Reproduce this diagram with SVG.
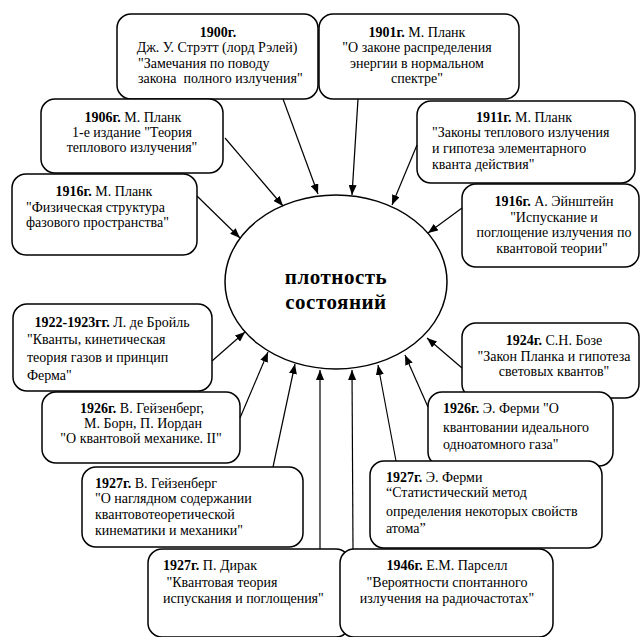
<svg xmlns="http://www.w3.org/2000/svg" width="642" height="637" viewBox="0 0 642 637">
<style>
.box{fill:#fff;stroke:#000;stroke-width:1.5}
.t{font-family:"Liberation Serif","Times New Roman","DejaVu Serif",serif;font-size:14px;fill:#000}
.b{font-weight:bold}
.c{text-anchor:middle}
.conn line{stroke:#000;stroke-width:1.2;marker-end:url(#ah)}
.center{font-family:"Liberation Serif","Times New Roman","DejaVu Serif",serif;font-size:21px;font-weight:bold;text-anchor:middle;letter-spacing:0.5px}
</style>
<defs>
<marker id="ah" viewBox="0 0 10 8" refX="10" refY="4" markerWidth="10" markerHeight="8" markerUnits="userSpaceOnUse" orient="auto">
<path d="M0,0 L10,4 L0,8 Z" fill="#000"/>
</marker>
</defs>
<rect width="642" height="637" fill="#fff"/>

<g id="center">
<ellipse cx="336" cy="282" rx="111" ry="87" class="box"/>
<text class="center" x="336" y="284">плотность</text>
<text class="center" x="336" y="309">состояний</text>
</g>

<g id="n1900">
<rect class="box" x="117" y="14" width="201" height="85" rx="14"/>
<text class="t c b" x="218" y="37">1900г.</text>
<text class="t c" x="217" y="52">Дж. У. Стрэтт (лорд Рэлей)</text>
<text class="t" x="138" y="68">"Замечания по поводу</text>
<text class="t" x="138" y="83" xml:space="preserve">закона  полного излучения"</text>
</g>

<g id="n1901">
<rect class="box" x="319" y="14" width="200" height="85" rx="14"/>
<text class="t c" x="417" y="37"><tspan class="b">1901г.</tspan> М. Планк</text>
<text class="t c" x="417" y="52">"О законе распределения</text>
<text class="t c" x="417" y="68">энергии в нормальном</text>
<text class="t c" x="417" y="83">спектре"</text>
</g>

<g id="n1906">
<rect class="box" x="41" y="99" width="182" height="74" rx="14"/>
<text class="t c" x="133" y="122"><tspan class="b">1906г.</tspan> М. Планк</text>
<text class="t c" x="132" y="137">1-е издание "Теория</text>
<text class="t c" x="132" y="152">теплового излучения"</text>
</g>

<g id="n1916p">
<rect class="box" x="12" y="174" width="185" height="81" rx="14"/>
<text class="t c" x="104" y="196"><tspan class="b">1916г.</tspan> М. Планк</text>
<text class="t" x="26" y="212">"Физическая структура</text>
<text class="t" x="26" y="227">фазового пространства"</text>
</g>

<g id="n1911">
<rect class="box" x="417" y="101" width="218" height="82" rx="14"/>
<text class="t c" x="524" y="122"><tspan class="b">1911г.</tspan> М. Планк</text>
<text class="t" x="432" y="137">"Законы теплового излучения</text>
<text class="t" x="432" y="153">и гипотеза элементарного</text>
<text class="t" x="432" y="169">кванта действия"</text>
</g>

<g id="n1916e">
<rect class="box" x="462" y="184" width="177" height="83" rx="14"/>
<text class="t c" x="554" y="206"><tspan class="b">1916г.</tspan> А. Эйнштейн</text>
<text class="t c" x="554" y="222">"Испускание и</text>
<text class="t c" x="554" y="237">поглощение излучения по</text>
<text class="t c" x="552" y="253">квантовой теории"</text>
</g>

<g id="n1922">
<rect class="box" x="13" y="304" width="199" height="87" rx="14"/>
<text class="t c" x="112" y="327"><tspan class="b">1922-1923гг.</tspan> Л. де Бройль</text>
<text class="t" x="27" y="344">"Кванты, кинетическая</text>
<text class="t" x="27" y="362">теория газов и принцип</text>
<text class="t" x="27" y="380">Ферма"</text>
</g>

<g id="n1926h">
<rect class="box" x="42" y="392" width="198" height="71" rx="14"/>
<text class="t c" x="142" y="413"><tspan class="b">1926г.</tspan> В. Гейзенберг,</text>
<text class="t c" x="143" y="428">М. Борн, П. Иордан</text>
<text class="t c" x="141" y="443">"О квантовой механике. II"</text>
</g>

<g id="n1927h">
<rect class="box" x="82" y="467" width="221" height="80" rx="14"/>
<text class="t" x="95" y="488"><tspan class="b">1927г.</tspan> В. Гейзенберг</text>
<text class="t" x="95" y="503">"О наглядном содержании</text>
<text class="t" x="95" y="519">квантовотеоретической</text>
<text class="t" x="95" y="535">кинематики и механики"</text>
</g>

<g id="n1924">
<rect class="box" x="462" y="323" width="177" height="75" rx="14"/>
<text class="t c" x="554" y="345"><tspan class="b">1924г.</tspan> С.Н. Бозе</text>
<text class="t c" x="554" y="361">"Закон Планка и гипотеза</text>
<text class="t c" x="554" y="376">световых квантов"</text>
</g>

<g id="n1926f">
<rect class="box" x="428" y="392" width="185" height="74" rx="14"/>
<text class="t" x="443" y="413"><tspan class="b">1926г.</tspan> Э. Ферми "О</text>
<text class="t" x="443" y="432">квантовании идеального</text>
<text class="t" x="443" y="449">одноатомного газа"</text>
</g>

<g id="n1927f">
<rect class="box" x="370" y="461" width="232" height="87" rx="14"/>
<text class="t" x="386" y="482"><tspan class="b">1927г.</tspan> Э. Ферми</text>
<text class="t" x="386" y="497">“Статистический метод</text>
<text class="t" x="386" y="516">определения некоторых свойств</text>
<text class="t" x="386" y="533">атома”</text>
</g>

<g id="n1927d">
<rect class="box" x="148" y="549" width="202" height="88" rx="14"/>
<text class="t" x="163" y="570"><tspan class="b">1927г.</tspan> П. Дирак</text>
<text class="t" x="163" y="587" xml:space="preserve"> "Квантовая теория</text>
<text class="t" x="163" y="603">испускания и поглощения"</text>
</g>

<g id="n1946">
<rect class="box" x="340" y="549" width="213" height="88" rx="14"/>
<text class="t c" x="447" y="570"><tspan class="b">1946г.</tspan> Е.М. Парселл</text>
<text class="t c" x="447" y="587">"Вероятности спонтанного</text>
<text class="t c" x="447" y="603">излучения на радиочастотах"</text>
</g>

<g id="connectors" class="conn">
<line x1="283" y1="99" x2="318" y2="194"/>
<line x1="358" y1="99" x2="352" y2="195"/>
<line x1="225" y1="138" x2="283" y2="206"/>
<line x1="417" y1="145" x2="392" y2="205"/>
<line x1="197" y1="196" x2="240" y2="238"/>
<line x1="462" y1="208" x2="428" y2="233"/>
<line x1="212" y1="361" x2="245" y2="332"/>
<line x1="240" y1="418" x2="268" y2="352"/>
<line x1="273" y1="467" x2="295" y2="364"/>
<line x1="320" y1="549" x2="320" y2="370"/>
<line x1="353" y1="549" x2="352" y2="370"/>
<line x1="396" y1="461" x2="378" y2="365"/>
<line x1="428" y1="407" x2="405" y2="355"/>
<line x1="462" y1="368" x2="427" y2="338"/>
</g>
</svg>
